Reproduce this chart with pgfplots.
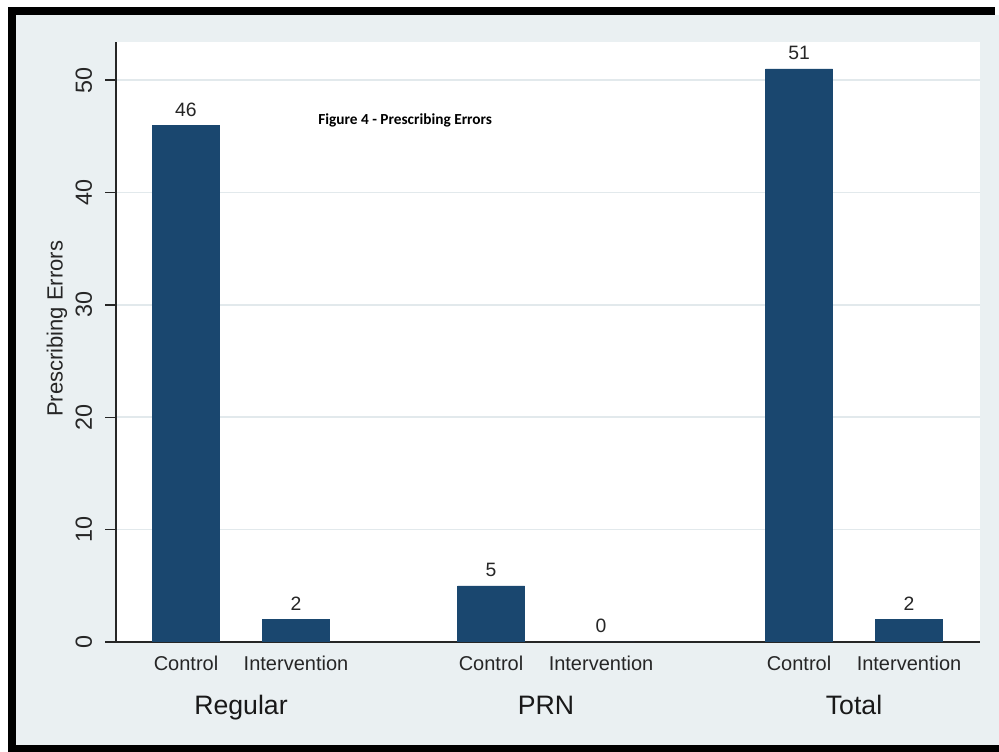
\documentclass[border=0pt]{standalone}
\usepackage{fontspec}
\setmainfont{Liberation Sans}
\newfontfamily\calibri{Carlito}
\usepackage{pgfplots}
\pgfplotsset{compat=1.18}
\definecolor{stnavy}{HTML}{1A476F}
\definecolor{stbg}{HTML}{EAF0F2}
\definecolor{stgrid}{HTML}{E2E9EC}
\begin{document}
\begin{tikzpicture}[x=0.75pt,y=0.75pt]
\fill[white] (0,0) rectangle (999,752);
\fill[stbg] (16,7) rectangle (999,737);
\fill[black] (8,0) rectangle (16,745);
\fill[black] (8,737) rectangle (995,745);
\fill[black] (8,0) rectangle (999,7);
\begin{axis}[
  at={(87pt,82.5pt)}, anchor=south west,
  scale only axis, width=648pt, height=450pt,
  xmin=116, xmax=980, ymin=0, ymax=53.4,
  axis x line*=bottom, axis y line*=left,
  axis line style={black!85, line width=1.1pt},
  axis background/.style={fill=white},
  ybar, bar width=67,
  ytick={0,10,20,30,40,50},
  ymajorgrids, grid style={stgrid, line width=1.2pt},
  xtick={186,296,491,601,799,909},
  xticklabels={Control,Intervention,Control,Intervention,Control,Intervention},
  xtick style={draw=none},
  ytick style={black!85, line width=1.1pt},
  tick align=outside, major tick length=8.25pt,
  /pgf/number format/assume math mode=true,
  xticklabel style={font=\fontsize{15}{18}\selectfont, text=black!85, yshift=1pt},
  yticklabel shift=9.5pt,
  yticklabel style={font=\fontsize{17.5}{20}\selectfont, text=black!85, rotate=90, anchor=south, inner sep=0pt},
  ylabel={Prescribing Errors},
  ylabel style={font=\fontsize{16.5}{20}\selectfont, text=black!85, at={(axis description cs:-0.0683,0.522)}, anchor=center},
  nodes near coords,
  nodes near coords style={font=\fontsize{14.5}{17}\selectfont, text=black!85, anchor=south, inner sep=0pt, yshift=6.5pt},
]
\addplot[fill=stnavy, draw=stnavy] coordinates {(186,46) (296,2) (491,5) (601,0) (799,51) (909,2)};
\end{axis}
\node[anchor=base, font=\fontsize{20}{24}\selectfont, text=black!90] at (241,37) {Regular};
\node[anchor=base, font=\fontsize{20}{24}\selectfont, text=black!90] at (546,37) {PRN};
\node[anchor=base, font=\fontsize{20}{24}\selectfont, text=black!90] at (854,37) {Total};
\node[anchor=west, inner sep=0pt, font=\calibri\bfseries\fontsize{11.5}{14}\selectfont] at (318,632) {Figure 4 - Prescribing Errors};
\end{tikzpicture}
\end{document}
